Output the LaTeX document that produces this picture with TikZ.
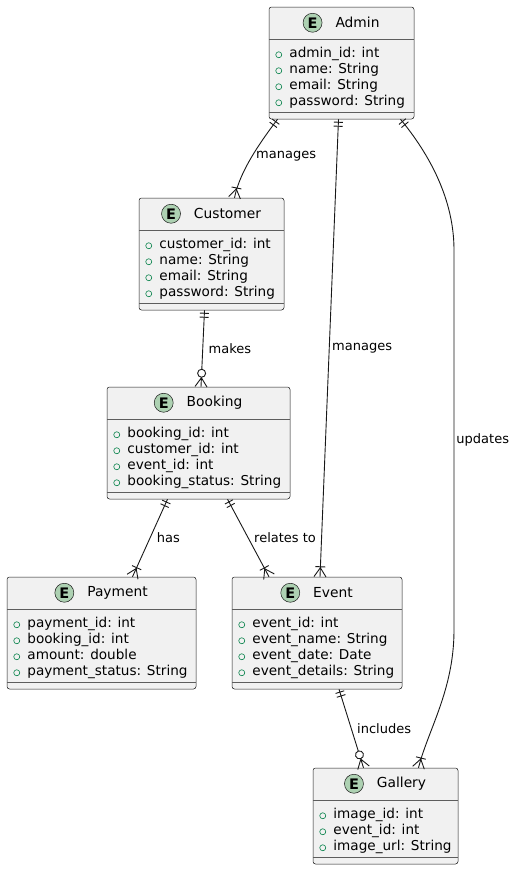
\documentclass[tikz,border=0pt]{standalone}
\usepackage{fontspec}
\setmainfont{DejaVu Sans}
\usepackage{xcolor}
\usepackage{tikz}
\usetikzlibrary{arrows.meta,positioning,calc}

\definecolor{lineC}{HTML}{181818}
\definecolor{boxC}{HTML}{F1F1F1}
\definecolor{badgeC}{HTML}{ADD1B2}
\definecolor{visC}{HTML}{038048}

% crow's foot ends
\pgfdeclarearrow{
  name=ErOne,
  setup code={
    \pgfarrowssettipend{0pt}
    \pgfarrowssetlineend{0pt}
    \pgfarrowssetbackend{-9pt}
    \pgfarrowshullpoint{0pt}{5pt}
    \pgfarrowshullpoint{0pt}{-5pt}
    \pgfarrowshullpoint{-9pt}{5pt}
    \pgfarrowshullpoint{-9pt}{-5pt}
  },
  drawing code={
    \pgfsetdash{}{0pt}
    \pgfpathmoveto{\pgfqpoint{-3pt}{4.5pt}}
    \pgfpathlineto{\pgfqpoint{-3pt}{-4.5pt}}
    \pgfpathmoveto{\pgfqpoint{-7pt}{4.5pt}}
    \pgfpathlineto{\pgfqpoint{-7pt}{-4.5pt}}
    \pgfusepathqstroke
  }
}
\pgfdeclarearrow{
  name=ErMany,
  setup code={
    \pgfarrowssettipend{0pt}
    \pgfarrowssetlineend{0pt}
    \pgfarrowssetbackend{-11pt}
    \pgfarrowshullpoint{0pt}{6pt}
    \pgfarrowshullpoint{0pt}{-6pt}
    \pgfarrowshullpoint{-11pt}{5pt}
    \pgfarrowshullpoint{-11pt}{-5pt}
  },
  drawing code={
    \pgfsetdash{}{0pt}
    \pgfpathmoveto{\pgfqpoint{0pt}{6pt}}
    \pgfpathlineto{\pgfqpoint{-9pt}{0pt}}
    \pgfpathlineto{\pgfqpoint{0pt}{-6pt}}
    \pgfpathmoveto{\pgfqpoint{-10pt}{5pt}}
    \pgfpathlineto{\pgfqpoint{-10pt}{-5pt}}
    \pgfusepathqstroke
  }
}
\pgfdeclarearrow{
  name=ErZeroMany,
  setup code={
    \pgfarrowssettipend{0pt}
    \pgfarrowssetlineend{-17.5pt}
    \pgfarrowssetbackend{-17.5pt}
    \pgfarrowshullpoint{0pt}{6pt}
    \pgfarrowshullpoint{0pt}{-6pt}
    \pgfarrowshullpoint{-17.5pt}{4pt}
    \pgfarrowshullpoint{-17.5pt}{-4pt}
  },
  drawing code={
    \pgfsetdash{}{0pt}
    \pgfpathmoveto{\pgfqpoint{0pt}{6pt}}
    \pgfpathlineto{\pgfqpoint{-9pt}{0pt}}
    \pgfpathlineto{\pgfqpoint{0pt}{-6pt}}
    \pgfpathmoveto{\pgfqpoint{-9.5pt}{0pt}}
    \pgfpathlineto{\pgfqpoint{0pt}{0pt}}
    \pgfusepathqstroke
    \pgfsetfillcolor{white}
    \pgfpathcircle{\pgfqpoint{-13.5pt}{0pt}}{4pt}
    \pgfusepathqfillstroke
  }
}

\begin{document}
\begin{tikzpicture}[
  x=1pt, y=-1pt,
  entity/.style={draw=lineC, fill=boxC, line width=0.5pt, rounded corners=2.5pt, inner sep=0pt},
  sep/.style={draw=lineC!70, line width=0.5pt},
  etitle/.style={inner sep=0pt, font=\fontsize{13.8pt}{16pt}\selectfont},
  ebadge/.style={circle, draw=lineC, fill=badgeC, line width=0.5pt, minimum size=19pt, inner sep=0pt, font=\bfseries\fontsize{14.5pt}{14pt}\selectfont},
  vis/.style={circle, draw=visC, line width=0.6pt, minimum size=6pt, inner sep=0pt},
  attr/.style={anchor=west, inner sep=0pt, text height=10.5pt, text depth=3pt, font=\fontsize{13.6pt}{16pt}\selectfont},
  rel/.style={draw=lineC, line width=0.9pt},
  lab/.style={inner sep=0.5pt, font=\fontsize{13pt}{15pt}\selectfont}
]
\useasboundingbox (0,0) rectangle (515,870);

% Admin
\node[entity, minimum width=145pt, minimum height=112pt] (admin) at (341.5,63) {};
\draw[sep] ([yshift=-32pt]admin.north west) -- ([yshift=-32pt]admin.north east);
\draw[sep] ([yshift=7pt]admin.south west) -- ([yshift=7pt]admin.south east);
\node[etitle] (admin-t) at ($(admin.north)+(16,16)$) {Admin};
\node[ebadge, left=13pt of admin-t] (admin-e) {E};
\foreach \f [count=\i] in {admin\_id: int, name: String, email: String, password: String}
  {\node[vis] (admin-v\i) at ($(admin.north west)+(10,32+16*\i)$) {};
   \node[attr] (admin-a\i) at ($(admin.north west)+(20.5,30.5+16*\i)$) {\f};}

% Customer
\node[entity, minimum width=145pt, minimum height=112pt] (customer) at (211.5,254) {};
\draw[sep] ([yshift=-32pt]customer.north west) -- ([yshift=-32pt]customer.north east);
\draw[sep] ([yshift=7pt]customer.south west) -- ([yshift=7pt]customer.south east);
\node[etitle] (customer-t) at ($(customer.north)+(16,16)$) {Customer};
\node[ebadge, left=13pt of customer-t] (customer-e) {E};
\foreach \f [count=\i] in {customer\_id: int, name: String, email: String, password: String}
  {\node[vis] (customer-v\i) at ($(customer.north west)+(10,32+16*\i)$) {};
   \node[attr] (customer-a\i) at ($(customer.north west)+(20.5,30.5+16*\i)$) {\f};}

% Booking
\node[entity, minimum width=183pt, minimum height=112pt] (booking) at (198.5,443) {};
\draw[sep] ([yshift=-32pt]booking.north west) -- ([yshift=-32pt]booking.north east);
\draw[sep] ([yshift=7pt]booking.south west) -- ([yshift=7pt]booking.south east);
\node[etitle] (booking-t) at ($(booking.north)+(16,16)$) {Booking};
\node[ebadge, left=13pt of booking-t] (booking-e) {E};
\foreach \f [count=\i] in {booking\_id: int, customer\_id: int, event\_id: int, booking\_status: String}
  {\node[vis] (booking-v\i) at ($(booking.north west)+(10,32+16*\i)$) {};
   \node[attr] (booking-a\i) at ($(booking.north west)+(20.5,30.5+16*\i)$) {\f};}

% Payment
\node[entity, minimum width=189pt, minimum height=112pt] (payment) at (101.5,633) {};
\draw[sep] ([yshift=-32pt]payment.north west) -- ([yshift=-32pt]payment.north east);
\draw[sep] ([yshift=7pt]payment.south west) -- ([yshift=7pt]payment.south east);
\node[etitle] (payment-t) at ($(payment.north)+(16,16)$) {Payment};
\node[ebadge, left=13pt of payment-t] (payment-e) {E};
\foreach \f [count=\i] in {payment\_id: int, booking\_id: int, amount: double, payment\_status: String}
  {\node[vis] (payment-v\i) at ($(payment.north west)+(10,32+16*\i)$) {};
   \node[attr] (payment-a\i) at ($(payment.north west)+(20.5,30.5+16*\i)$) {\f};}

% Event
\node[entity, minimum width=170pt, minimum height=112pt] (event) at (317,633) {};
\draw[sep] ([yshift=-32pt]event.north west) -- ([yshift=-32pt]event.north east);
\draw[sep] ([yshift=7pt]event.south west) -- ([yshift=7pt]event.south east);
\node[etitle] (event-t) at ($(event.north)+(16,16)$) {Event};
\node[ebadge, left=13pt of event-t] (event-e) {E};
\foreach \f [count=\i] in {event\_id: int, event\_name: String, event\_date: Date, event\_details: String}
  {\node[vis] (event-v\i) at ($(event.north west)+(10,32+16*\i)$) {};
   \node[attr] (event-a\i) at ($(event.north west)+(20.5,30.5+16*\i)$) {\f};}

% Gallery
\node[entity, minimum width=145pt, minimum height=96pt] (gallery) at (385.5,816) {};
\draw[sep] ([yshift=-32pt]gallery.north west) -- ([yshift=-32pt]gallery.north east);
\draw[sep] ([yshift=7pt]gallery.south west) -- ([yshift=7pt]gallery.south east);
\node[etitle] (gallery-t) at ($(gallery.north)+(16,16)$) {Gallery};
\node[ebadge, left=13pt of gallery-t] (gallery-e) {E};
\foreach \f [count=\i] in {image\_id: int, event\_id: int, image\_url: String}
  {\node[vis] (gallery-v\i) at ($(gallery.north west)+(10,32+16*\i)$) {};
   \node[attr] (gallery-a\i) at ($(gallery.north west)+(20.5,30.5+16*\i)$) {\f};}

% relations
\draw[rel, {ErOne}-{ErMany}] ($(admin.south)+(-64,0)$) .. controls (262,140) and (240,170) .. node[lab, right=3pt] {manages} ($(customer.north)+(23,0)$);
\draw[rel, {ErOne}-{ErMany}] ($(admin.south)+(-3,0)$) -- node[lab, right=2pt] {manages} ($(event.north)+(3,0)$);
\draw[rel, {ErOne}-{ErMany}] ($(admin.south)+(59,0)$) .. controls (430,155) and (454,200) .. (454,250) -- node[lab, right=1.5pt] {updates} (454,630) .. controls (454,690) and (428,730) .. ($(gallery.north)+(33,0)$);
\draw[rel, {ErOne}-{ErZeroMany}] ($(customer.south)+(-7,0)$) -- node[lab, right=5pt] {makes} ($(booking.north)+(2.5,0)$);
\draw[rel, {ErOne}-{ErMany}] ($(booking.south)+(-31,0)$) -- node[lab, right=6pt] {has} ($(payment.north)+(31,0)$);
\draw[rel, {ErOne}-{ErMany}] ($(booking.south)+(29,0)$) -- node[lab, right=5pt] {relates to} ($(event.north)+(-48,0)$);
\draw[rel, {ErOne}-{ErZeroMany}] ($(event.south)+(22,0)$) -- node[lab, right=5pt] {includes} ($(gallery.north)+(-22,0)$);
\end{tikzpicture}
\end{document}
